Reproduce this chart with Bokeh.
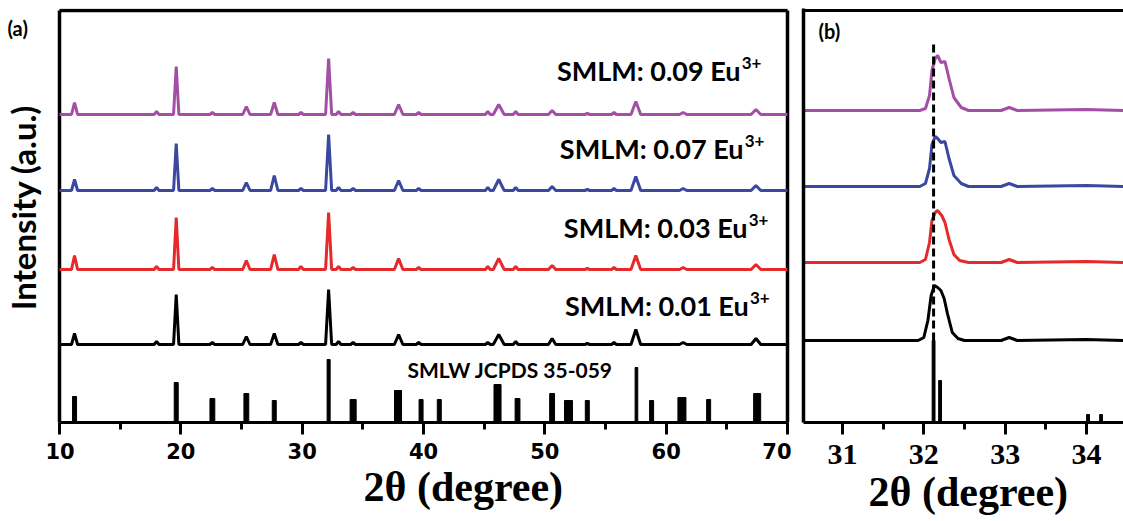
import math
from bokeh.plotting import figure
from bokeh.models import Label, Span, SingleIntervalTicker, FixedTicker, Title
from bokeh.layouts import row
from bokeh.core.properties import value
from bokeh.embed import file_html
from bokeh.resources import INLINE

# ---------------- panel (a) data ----------------
peak_pos = [11.24, 18.0, 19.62, 22.6, 25.4, 27.7, 29.9, 32.18, 33.0, 34.2, 37.95,
            39.6, 45.3, 46.2, 47.6, 50.6, 53.5, 55.7, 57.5, 61.4, 67.4]
int_001 = [11, 3, 50, 2, 8, 11, 2, 55, 3, 2, 10, 2, 2, 10, 3, 6, 1, 2, 15, 2, 6]
int_003 = [14, 3, 52, 2, 9, 15, 3, 57, 3, 2, 11, 2, 3, 11, 3, 4, 1, 2, 14, 2, 5]
int_007 = [11, 3, 47, 2, 8, 15, 2, 56, 3, 2, 10, 2, 3, 11, 3, 4, 1, 2, 14, 2, 5]
int_009 = [12, 3, 48, 2, 8, 12, 2, 56, 3, 2, 10, 2, 3, 10, 3, 4, 1, 2, 13, 2, 5]

jcpds_pos = [11.24, 19.62, 22.6, 25.4, 27.7, 32.18, 34.2, 37.9, 39.8, 41.3,
             46.1, 47.75, 50.6, 51.95, 53.5, 57.55, 58.8, 61.3, 63.5, 67.5]
jcpds_int = [26, 40, 24, 29, 22, 63, 23, 32, 23, 23,
             38, 24, 29, 22, 22, 55, 22, 25, 23, 29]

sample_names = ["SMLM: 0.01 Eu", "SMLM: 0.03 Eu", "SMLM: 0.07 Eu", "SMLM: 0.09 Eu"]
sample_sup = "3+"
ref_name = "SMLW JCPDS 35-059"
x_title = "2θ (degree)"
y_title = "Intensity (a.u.)"

# ---------------- panel (b) data ----------------
zx_001 = [30.52, 31.93, 32.0, 32.05, 32.09, 32.13, 32.17, 32.21, 32.25, 32.29, 32.35, 32.42, 32.5, 32.95, 33.05, 33.15, 34.0, 34.46]
zy_001 = [0, 0, 3, 20, 45, 55, 53, 50, 42, 27, 8, 2, 0, 0, 3, 0, 1, 0]
zx_003 = [30.52, 31.95, 32.02, 32.07, 32.10, 32.14, 32.17, 32.22, 32.26, 32.31, 32.37, 32.44, 32.55, 32.95, 33.05, 33.15, 34.0, 34.46]
zy_003 = [0, 0, 3, 20, 42, 50, 52, 47, 40, 23, 8, 2, 0, 0, 3, 0, 1, 0]
zx_007 = [30.52, 31.95, 32.02, 32.07, 32.10, 32.14, 32.17, 32.21, 32.26, 32.31, 32.37, 32.46, 32.55, 32.95, 33.05, 33.15, 34.0, 34.46]
zy_007 = [0, 0, 3, 18, 42, 50, 48, 44, 45, 28, 11, 3, 0, 0, 3, 0, 1, 0]
zx_009 = [30.52, 31.95, 32.02, 32.07, 32.10, 32.14, 32.17, 32.21, 32.26, 32.31, 32.37, 32.46, 32.55, 32.95, 33.05, 33.15, 34.0, 34.46]
zy_009 = [0, 0, 2, 15, 40, 52, 55, 48, 49, 32, 13, 3, 0, 0, 3, 0, 1, 0]

zref_pos = [32.12, 32.2, 34.02, 34.18]
zref_int = [82, 42, 8, 8]
dash_x = 32.12

# ---------------- styles / layout ----------------
colors = ["#000000", "#E42A2A", "#3A48A0", "#A34FA5"]
offs_a = [78, 153, 232, 308]
offs_b = [82, 160, 236, 312]
peak_hw = [0.25, 0.2, 0.22, 0.2, 0.3, 0.3, 0.2, 0.25, 0.2, 0.2, 0.35,
           0.2, 0.2, 0.45, 0.2, 0.3, 0.2, 0.2, 0.4, 0.3, 0.4]
jcpds_w = [0.33, 0.33, 0.4, 0.4, 0.33, 0.25, 0.5, 0.58, 0.33, 0.33,
           0.58, 0.4, 0.4, 0.66, 0.33, 0.22, 0.33, 0.66, 0.33, 0.58]
label_pos = [(66.8, 117), (66.7, 195), (66.37, 274), (66.13, 352)]

SANS = "Lato"
SERIF = "Liberation Serif"
H = 521            # total height
FT, FH = 8, 414    # frame top / height (y=0 sits at pixel 422)
SIDE_W = 45
PA_RIGHT = 791
PXU = 728 / 60.0   # pixels per degree in panel (a)
XA0 = 10 - (59 - SIDE_W) / PXU
XA1 = 10 + (PA_RIGHT - 59) / PXU
YTOP = 412


def profile(pos, heights, hw, x0, x1, off):
    xs, ys = [x0], [off]
    for p, h, w in sorted(zip(pos, heights, hw)):
        xs += [p - w, p, p + w]
        ys += [off, off + h, off]
    xs.append(x1)
    ys.append(off)
    return xs, ys


def style_common(p):
    p.xgrid.visible = False
    p.ygrid.visible = False
    p.background_fill_color = "white"
    p.border_fill_color = "white"
    p.xaxis.axis_line_width = 3
    p.xaxis.axis_line_color = "black"
    p.xaxis.major_tick_line_width = 3
    p.xaxis.minor_tick_line_width = 3
    p.xaxis.major_tick_line_color = "black"
    p.xaxis.minor_tick_line_color = "black"
    p.xaxis.major_tick_in = 0
    p.xaxis.major_tick_out = 12
    p.xaxis.minor_tick_in = 0
    p.xaxis.minor_tick_out = 7
    p.xaxis.major_label_text_color = "black"


# ---------------- side strip: (a) and y title ----------------
ps = figure(frame_width=SIDE_W, frame_height=H, x_range=(0, SIDE_W), y_range=(0, H),
            x_axis_type=None, y_axis_type=None, output_backend="svg", toolbar_location=None,
            min_border_left=0, min_border_right=0, min_border_top=0, min_border_bottom=0)
ps.outline_line_color = None
ps.xgrid.visible = False
ps.ygrid.visible = False
ps.text(x=[22], y=[H - 199], text=[y_title], angle=math.pi / 2, text_align="center",
        text_baseline="middle", text_font=value(SANS), text_font_style="bold",
        text_font_size="33px", text_color="black")
ps.text(x=[7], y=[H - 19], text=["(a)"], text_align="left", text_baseline="alphabetic",
        text_font=value(SANS), text_font_style="bold", text_font_size="20px",
        text_color="black")

# ---------------- panel (a) ----------------
pa = figure(frame_width=PA_RIGHT - SIDE_W, frame_height=FH, x_range=(XA0, XA1), y_range=(0, FH),
            y_axis_type=None, output_backend="svg", toolbar_location=None,
            min_border_left=0, min_border_right=0, min_border_top=FT,
            min_border_bottom=H - FT - FH)
style_common(pa)
pa.outline_line_color = None
pa.xaxis.bounds = (10, 70)
pa.xaxis.ticker = SingleIntervalTicker(interval=10, num_minor_ticks=2)
pa.xaxis.major_label_text_font = "DejaVu Sans"
pa.xaxis.major_label_text_font_style = "bold"
pa.xaxis.major_label_text_font_size = "21px"
pa.xaxis.major_label_standoff = 8

# frame box of panel (a): left, right, top edges
pa.segment(x0=[10, 70, 10], y0=[0, 0, YTOP], x1=[10, 70, 70], y1=[YTOP, YTOP, YTOP],
           line_color="black", line_width=3.5)

for ints, off, c in zip([int_001, int_003, int_007, int_009], offs_a, colors):
    xs, ys = profile(peak_pos, ints, peak_hw, 10, 70, off)
    pa.line(xs, ys, line_color=c, line_width=3)

pa.vbar(x=jcpds_pos, top=jcpds_int, bottom=0, width=jcpds_w, color="black")

for name, (xe, yb) in zip(sample_names, label_pos):
    pa.add_layout(Label(x=xe, y=yb, text=name, text_align="right", text_baseline="alphabetic",
                        text_font=SANS, text_font_style="bold", text_font_size="27px",
                        text_color="black"))
    pa.add_layout(Label(x=xe + 0.1, y=yb + 8, text=sample_sup, text_align="left",
                        text_baseline="alphabetic", text_font=SANS, text_font_style="bold",
                        text_font_size="17px", text_color="black"))

pa.add_layout(Label(x=38.68, y=53, text=ref_name, text_align="left",
                    text_baseline="alphabetic", text_font=SANS, text_font_style="bold",
                    text_font_size="21px", text_color="black"))
pa.add_layout(Title(text=x_title, align="left", offset=304 + 59 - SIDE_W, standoff=0,
                    text_font=SERIF, text_font_style="bold", text_font_size="42px",
                    text_color="black"), "below")

# ---------------- panel (b) ----------------
pb = figure(frame_width=320, frame_height=FH, x_range=(30.52, 34.456), y_range=(0, FH),
            output_backend="svg", toolbar_location=None,
            min_border_left=12, min_border_right=0, min_border_top=FT,
            min_border_bottom=H - FT - FH)
style_common(pb)
pb.outline_line_color = None
pb.yaxis.ticker = FixedTicker(ticks=[])
pb.yaxis.major_tick_line_color = None
pb.yaxis.minor_tick_line_color = None
pb.yaxis.axis_line_width = 3.5
pb.yaxis.axis_line_color = "black"
pb.add_layout(Span(location=YTOP, dimension="width", line_color="black", line_width=3))
pb.xaxis.ticker = SingleIntervalTicker(interval=1, num_minor_ticks=2)
pb.xaxis.major_label_text_font = SERIF
pb.xaxis.major_label_text_font_style = "bold"
pb.xaxis.major_label_text_font_size = "30px"
pb.xaxis.major_label_standoff = 10

for zx, zy, off, c in zip([zx_001, zx_003, zx_007, zx_009], [zy_001, zy_003, zy_007, zy_009],
                          offs_b, colors):
    pb.line(zx, [v + off for v in zy], line_color=c, line_width=3)

pb.vbar(x=zref_pos, top=zref_int, bottom=0, width=0.035, color="black")
pb.line([dash_x, dash_x], [82, 379], line_color="black", line_width=3, line_dash="8 4")

pb.add_layout(Label(x=30.705, y=392, text="(b)", text_align="left", text_baseline="alphabetic",
                    text_font=SANS, text_font_style="bold", text_font_size="20px",
                    text_color="black"))
pb.add_layout(Title(text=x_title, align="left", offset=65, standoff=0,
                    text_font=SERIF, text_font_style="bold", text_font_size="42px",
                    text_color="black"), "below")

layout = row(ps, pa, pb)
open("out.html", "w").write(file_html(layout, INLINE))
